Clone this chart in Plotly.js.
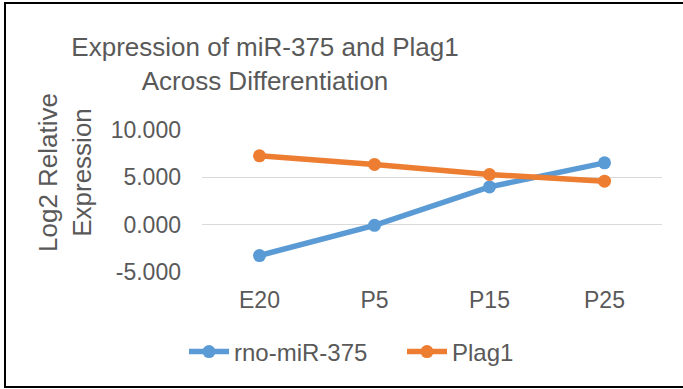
<!DOCTYPE html>
<html>
<head>
<meta charset="utf-8">
<script src="https://cdn.plot.ly/plotly-3.0.1.min.js"></script>
<style>
  html, body { margin: 0; padding: 0; background: #ffffff; }
  #wrap { position: relative; width: 683px; height: 389px; overflow: hidden; }
  #chart { position: absolute; left: 0; top: 0; width: 683px; height: 389px; }
  #frame { position: absolute; left: 4px; top: 2px; width: 700px; height: 386px;
           box-sizing: border-box; border: 2px solid #000; pointer-events: none; }
</style>
</head>
<body>
<div id="wrap">
  <div id="chart"></div>
  <div id="frame"></div>
</div>
<script>
const categories = ["E20", "P5", "P15", "P25"];
const mir375 = [-3.26, -0.07, 3.99, 6.53];
const plag1 = [7.27, 6.36, 5.30, 4.59];
const yTickVals = [-5, 0, 5, 10];
const yTickText = ["-5.000", "0.000", "5.000", "10.000"];

const textColor = "#595959";
const fontFamily = "Liberation Sans, Arial, sans-serif";

const traces = [
  {
    type: "scatter", mode: "lines+markers", name: "rno-miR-375",
    x: categories, y: mir375,
    line: { color: "#5B9BD5", width: 5.5 },
    marker: { color: "#5B9BD5", size: 13 }
  },
  {
    type: "scatter", mode: "lines+markers", name: "Plag1",
    x: categories, y: plag1,
    line: { color: "#ED7D31", width: 5.5 },
    marker: { color: "#ED7D31", size: 13 }
  }
];

const layout = {
  width: 683, height: 389,
  paper_bgcolor: "#ffffff", plot_bgcolor: "#ffffff",
  font: { family: fontFamily, color: textColor, size: 23 },
  margin: { l: 202, r: 21, t: 130, b: 117, autoexpand: false },
  title: {
    text: "Expression of miR-375 and Plag1<br>Across Differentiation",
    font: { size: 26, color: textColor, family: fontFamily },
    xref: "container", x: 265 / 683, xanchor: "center",
    yref: "container", y: 1 - 56 / 389, yanchor: "middle"
  },
  xaxis: {
    type: "category", range: [-0.5, 3.5],
    showgrid: false, zeroline: false, showline: false,
    ticks: "", ticklabelstandoff: 12,
    tickfont: { size: 23, color: textColor }
  },
  yaxis: {
    range: [-5, 10], tickvals: yTickVals, ticktext: yTickText,
    showgrid: true, gridcolor: "#D9D9D9", gridwidth: 1.5,
    zeroline: false, showline: false, ticks: "",
    ticklabelstandoff: 20,
    tickfont: { size: 23, color: textColor },
    automargin: false
  },
  annotations: [
    {
      text: "Log2 Relative<br>Expression",
      textangle: -90, showarrow: false,
      font: { size: 26, color: textColor },
      xref: "paper", yref: "paper",
      x: (65 - 202) / 460, xanchor: "center",
      y: (389 - 117 - 173) / (389 - 130 - 117), yanchor: "middle"
    }
  ],
  legend: {
    orientation: "h",
    xref: "container", x: 184 / 683, xanchor: "left",
    yref: "container", y: 1 - 352 / 389, yanchor: "middle",
    font: { size: 24, color: textColor },
    itemwidth: 40,
    entrywidthmode: "pixels", entrywidth: 163
  },
  showlegend: true
};

Plotly.newPlot("chart", traces, layout, { displayModeBar: false, staticPlot: true });
</script>
</body>
</html>
